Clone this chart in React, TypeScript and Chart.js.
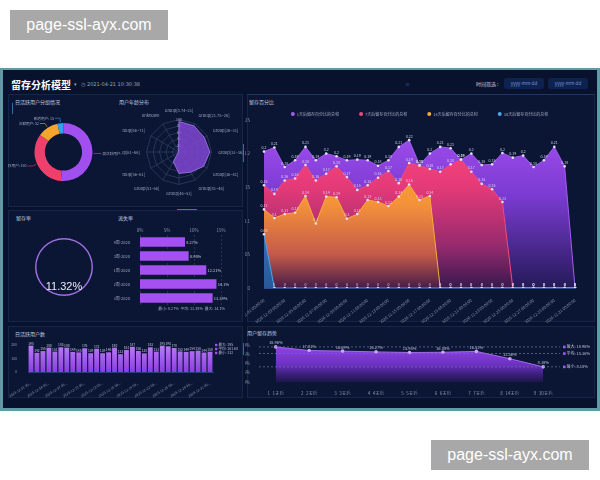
import React, { useEffect, useRef } from 'react';
import { Chart, registerables } from 'chart.js';

Chart.register(...registerables);

const FONT = "'Noto Sans CJK SC', 'Noto Sans', sans-serif";
Chart.defaults.font.family = FONT;
Chart.defaults.color = '#8a94aa';

// ---------- data ----------
const groupLabels = ['高活跃用户', '活跃用户', '沉默用户', '新增用户'];
const groupValues = [230, 150, 52, 15];
const groupColors = ['#a24ff0', '#ef3f6c', '#f6a52c', '#37a0ee'];

const ageLabels = ['Group[0.74~21]', 'Group[21.75~26]', 'Group[26~31]', 'Group[31~36]', 'Group[36~41]', 'Group[41~46]', 'Group[46~51]', 'Group[51~56]', 'Group[56~61]', 'Group[61~66]', 'Group[66~71]', 'unknown'];
const ageValues = [94, 93, 90, 95, 88, 72, 66, 35, 3, 2, 2, 3];

const retentionRate = '11.32%';

const churnWeeks = ['第49周-2020', '第50周-2020', '第51周-2020', '第52周-2020', '第53周-2020'];
const churnRates = [8.27, 8.95, 12.21, 14.1, 13.39];

const dayLabels = [
  '2020-12-01 00:00:00', '2020-12-02 00:00:00', '2020-12-03 00:00:00', '2020-12-04 00:00:00', '2020-12-05 00:00:00',
  '2020-12-06 00:00:00', '2020-12-07 00:00:00', '2020-12-08 00:00:00', '2020-12-09 00:00:00', '2020-12-10 00:00:00',
  '2020-12-11 00:00:00', '2020-12-12 00:00:00', '2020-12-13 00:00:00', '2020-12-14 00:00:00', '2020-12-15 00:00:00',
  '2020-12-16 00:00:00', '2020-12-17 00:00:00', '2020-12-18 00:00:00', '2020-12-19 00:00:00', '2020-12-20 00:00:00',
  '2020-12-21 00:00:00', '2020-12-22 00:00:00', '2020-12-23 00:00:00', '2020-12-24 00:00:00', '2020-12-25 00:00:00',
  '2020-12-26 00:00:00', '2020-12-27 00:00:00', '2020-12-28 00:00:00', '2020-12-29 00:00:00', '2020-12-30 00:00:00',
  '2020-12-31 00:00:00',
];
const seriesNames = ['1天后留存百分比的总和', '7天后留存百分比的总和', '14天后留存百分比的总和', '30天后留存百分比的总和'];
const seriesColors = ['#a35cf2', '#f0487e', '#f6ad3a', '#4aa6ea'];
const retention1 = [0.203, 0.209, 0.180, 0.190, 0.210, 0.190, 0.200, 0.196, 0.190, 0.191, 0.190, 0.182, 0.190, 0.210, 0.220, 0.183, 0.200, 0.210, 0.208, 0.191, 0.200, 0.183, 0.184, 0.201, 0.194, 0.197, 0.180, 0.190, 0.210, 0.181, 0];
const retention7 = [0.153, 0.140, 0.160, 0.163, 0.183, 0.160, 0.170, 0.181, 0.165, 0.146, 0.153, 0.164, 0.174, 0.156, 0.186, 0.182, 0.177, 0.173, 0.184, 0.191, 0.173, 0.155, 0.147, 0.128, 0, 0, 0, 0, 0, 0, 0];
const retention14 = [0.117, 0.104, 0.110, 0.112, 0.137, 0.096, 0.136, 0.135, 0.103, 0.110, 0.131, 0.128, 0.122, 0.136, 0.154, 0.131, 0.137, 0, 0, 0, 0, 0, 0, 0, 0, 0, 0, 0, 0, 0, 0];
const retention30 = [0.08, 0, 0, 0, 0, 0, 0, 0, 0, 0, 0, 0, 0, 0, 0, 0, 0, 0, 0, 0, 0, 0, 0, 0, 0, 0, 0, 0, 0, 0, 0];

const dauValues = [195, 142, 155, 180, 151, 183, 180, 149, 145, 176, 139, 172, 139, 146, 180, 132, 163, 187, 156, 138, 183, 151, 195, 190, 178, 152, 149, 154, 158, 144, 150];

const trendLabels = ['1_1天后', '2_2天后', '3_3天后', '4_4天后', '5_5天后', '6_6天后', '7_7天后', '8_14天后', '9_30天后'];
const trendValues = [18.96, 17.01, 16.69, 16.27, 15.95, 16.08, 16.53, 12.56, 8.18];

// ---------- helpers ----------
function vgrad(chart: any, stops: [number, string][]) {
  const { ctx, chartArea } = chart;
  if (!chartArea) return stops[0][1];
  const g = ctx.createLinearGradient(0, chartArea.top, 0, chartArea.bottom);
  stops.forEach(([o, c]) => g.addColorStop(o, c));
  return g;
}

function valueLabels(id: string, o: { size: number; color: string; fmt: (v: number) => string; dy?: number; dx?: number; side?: boolean }) {
  return {
    id,
    afterDatasetsDraw(chart: any) {
      const ctx = chart.ctx;
      ctx.save();
      ctx.font = `${o.size}px ${FONT}`;
      ctx.fillStyle = o.color;
      ctx.textAlign = o.side ? 'left' : 'center';
      ctx.textBaseline = o.side ? 'middle' : 'bottom';
      chart.data.datasets.forEach((ds: any, di: number) => {
        chart.getDatasetMeta(di).data.forEach((el: any, i: number) => {
          const v = ds.data[i];
          if (o.side) ctx.fillText(o.fmt(v), el.x + (o.dx ?? 2), el.y);
          else ctx.fillText(o.fmt(v), el.x, el.y - (o.dy ?? 2));
        });
      });
      ctx.restore();
    },
  };
}

const baseOpts = {
  responsive: false,
  animation: false,
  events: [],
};

function ChartCanvas({ x, y, w, h, make, clip }: { x: number; y: number; w: number; h: number; make: () => any; clip?: string }) {
  const ref = useRef<HTMLCanvasElement | null>(null);
  useEffect(() => {
    const c = new Chart(ref.current as HTMLCanvasElement, make());
    return () => c.destroy();
  }, []);
  return <canvas ref={ref} width={w} height={h} style={{ position: 'absolute', left: x, top: y, width: w, height: h, clipPath: clip }} />;
}

// ---------- chart configs ----------
const doughnutConfig = () => ({
  type: 'doughnut',
  data: {
    labels: groupLabels,
    datasets: [{ data: groupValues, backgroundColor: groupColors, borderWidth: 0 }],
  },
  options: {
    ...baseOpts,
    cutout: '64%',
    layout: { padding: { left: 26, top: 25, right: 29, bottom: 21 } },
    plugins: { legend: { display: false }, tooltip: { enabled: false } },
  },
  plugins: [
    {
      id: 'dlabels',
      afterDatasetsDraw(chart: any) {
        const ctx = chart.ctx;
        const ds = chart.data.datasets[0];
        ctx.save();
        ctx.font = `3.6px ${FONT}`;
        chart.getDatasetMeta(0).data.forEach((arc: any, i: number) => {
          const { x, y, startAngle, endAngle, outerRadius } = arc.getProps(['x', 'y', 'startAngle', 'endAngle', 'outerRadius'], true);
          const a = (startAngle + endAngle) / 2;
          const c = Math.cos(a), s = Math.sin(a);
          const x1 = x + c * (outerRadius + 1), y1 = y + s * (outerRadius + 1);
          const x2 = x + c * (outerRadius + 5), y2 = y + s * (outerRadius + 5);
          const right = c >= 0;
          const x3 = x2 + (right ? 4 : -5);
          ctx.strokeStyle = groupColors[i];
          ctx.lineWidth = 0.6;
          ctx.beginPath();
          ctx.moveTo(x1, y1);
          ctx.lineTo(x2, y2);
          ctx.lineTo(x3, y2);
          ctx.stroke();
          ctx.fillStyle = '#9ea8bf';
          ctx.textAlign = right ? 'left' : 'right';
          ctx.textBaseline = 'middle';
          ctx.fillText(`${groupLabels[i]}: ${ds.data[i]}`, x3 + (right ? 1 : -1), y2);
        });
        ctx.restore();
      },
    },
  ],
});

const radarConfig = () => ({
  type: 'radar',
  data: {
    labels: ageLabels,
    datasets: [{ data: ageValues, backgroundColor: 'rgba(128,70,210,0.85)', borderColor: '#a878f0', borderWidth: 0.8, pointRadius: 0 }],
  },
  options: {
    ...baseOpts,
    layout: { padding: 0 },
    plugins: { legend: { display: false }, tooltip: { enabled: false } },
    scales: {
      r: {
        min: 0,
        max: 100,
        ticks: { stepSize: 20, font: { size: 3.5 }, color: '#b8a8d8', showLabelBackdrop: false, backdropColor: 'rgba(0,0,0,0)' },
        grid: { color: '#3a4a72', lineWidth: 0.6 },
        angleLines: { color: '#3a4a72', lineWidth: 0.6 },
        pointLabels: { font: { size: 4 }, color: '#9aa4bc', padding: 3 },
      },
    },
  },
});

const gaugeConfig = () => ({
  type: 'doughnut',
  data: { labels: ['留存率'], datasets: [{ data: [1], backgroundColor: '#a06ee2', borderWidth: 0 }] },
  options: {
    ...baseOpts,
    cutout: '95%',
    layout: { padding: 0 },
    plugins: { legend: { display: false }, tooltip: { enabled: false } },
  },
});

const churnConfig = () => ({
  type: 'bar',
  data: {
    labels: churnWeeks,
    datasets: [{ data: churnRates, backgroundColor: '#a551f2', barThickness: 9, borderWidth: 0 }],
  },
  options: {
    ...baseOpts,
    indexAxis: 'y',
    layout: { padding: { top: 0, right: 19, left: 0, bottom: 12 } },
    plugins: { legend: { display: false }, tooltip: { enabled: false } },
    scales: {
      x: {
        position: 'top',
        min: 0,
        max: 15,
        grid: { color: '#34466e', lineWidth: 0.6, drawTicks: false },
        border: { display: false, dash: [2, 2] },
        ticks: { stepSize: 5, font: { size: 4.5 }, padding: 2, callback: (v: any) => v + '%' },
        afterFit: (s: any) => { s.height = 9; },
      },
      y: {
        grid: { display: false },
        border: { display: false },
        ticks: { font: { size: 4 }, padding: 2, color: '#a0a8c0' },
        afterFit: (s: any) => { s.width = 26; },
      },
    },
  },
  plugins: [
    valueLabels('churnLbl', { size: 4, color: '#c8cce0', fmt: (v) => v + '%', side: true, dx: 1.5 }),
    {
      id: 'churnSummary',
      afterDraw(chart: any) {
        const vals = chart.data.datasets[0].data as number[];
        const min = Math.min(...vals), max = Math.max(...vals);
        const avg = vals.reduce((a, b) => a + b, 0) / vals.length;
        const ctx = chart.ctx;
        const { right, bottom } = chart.chartArea;
        ctx.save();
        ctx.font = `3.8px ${FONT}`;
        ctx.fillStyle = '#a8b0c6';
        ctx.textAlign = 'right';
        ctx.textBaseline = 'middle';
        ctx.fillText(`最小: ${min}%  平均: ${avg.toFixed(2)}%  最大: ${max}%`, right + 4, bottom + 4);
        ctx.restore();
      },
    },
  ],
});

const areaConfig = () => {
  const stops: [number, string][][] = [
    [[0, '#a650f2'], [0.45, '#7b3bd2'], [1, '#231a58']],
    [[0, '#ff4e80'], [0.4, '#e53a78'], [0.75, '#962a6e'], [1, '#38184e']],
    [[0, '#ffb22c'], [0.5, '#f4923a'], [0.8, '#c45a4a'], [1, '#461c48']],
    [[0, '#4aa8f0'], [1, '#28589a']],
  ];
  const data = [retention1, retention7, retention14, retention30];
  return {
    type: 'line',
    data: {
      labels: dayLabels,
      datasets: data.map((d, i) => ({
        label: seriesNames[i],
        data: d,
        order: 4 - i,
        fill: 'origin',
        tension: 0,
        borderWidth: 1,
        borderColor: seriesColors[i],
        backgroundColor: (ctx: any) => vgrad(ctx.chart, stops[i]),
        pointRadius: 1.3,
        pointBorderWidth: 0,
        pointBackgroundColor: '#e6dcf8',
      })),
    },
    options: {
      ...baseOpts,
      layout: { padding: { top: 22, right: 20, left: 0, bottom: 0 } },
      plugins: { legend: { display: false }, tooltip: { enabled: false } },
      scales: {
        x: {
          grid: { display: false },
          border: { display: true, color: '#2c4f8c' },
          ticks: {
            autoSkip: false, minRotation: 38, maxRotation: 38, font: { size: 4 }, padding: 2, color: '#8a94aa',
            callback: (_v: any, i: number) => (i % 2 === 0 ? dayLabels[i] : ''),
          },
          afterFit: (s: any) => { s.height = 35; s.paddingLeft = 0; s.paddingRight = 0; },
        },
        y: {
          min: 0,
          max: 0.25,
          grid: { display: false },
          border: { display: false },
          ticks: { stepSize: 0.05, font: { size: 4.5 }, padding: 6, callback: (v: any) => String(+Number(v).toFixed(2)) },
          afterFit: (s: any) => { s.width = 19; },
        },
      },
    },
    plugins: [
      valueLabels('areaLbl', { size: 3.6, color: 'rgba(225,225,240,0.85)', fmt: (v) => (v === 0 ? '0' : String(+v.toFixed(2))), dy: 2 }),
      {
        id: 'areaLegend',
        afterDraw(chart: any) {
          const ctx = chart.ctx;
          const { left, right } = chart.chartArea;
          ctx.save();
          ctx.font = `4px ${FONT}`;
          ctx.textBaseline = 'middle';
          const gap = 20;
          const widths = seriesNames.map((t) => 6 + ctx.measureText(t).width);
          const total = widths.reduce((a, b) => a + b, 0) + gap * (seriesNames.length - 1);
          let x = (left + right) / 2 - total / 2;
          const y = 16;
          seriesNames.forEach((t, i) => {
            ctx.fillStyle = seriesColors[i];
            ctx.beginPath();
            ctx.arc(x + 2, y, 2, 0, Math.PI * 2);
            ctx.fill();
            ctx.fillStyle = '#a0a8c0';
            ctx.textAlign = 'left';
            ctx.fillText(t, x + 6, y);
            x += widths[i] + gap;
          });
          ctx.restore();
        },
      },
    ],
  };
};

const dauConfig = () => ({
  type: 'bar',
  data: {
    labels: dayLabels,
    datasets: [{
      data: dauValues,
      backgroundColor: (ctx: any) => vgrad(ctx.chart, [[0, '#bb7cf8'], [1, '#8a3ee0']]),
      categoryPercentage: 0.85,
      barPercentage: 0.95,
      borderWidth: 0,
    }],
  },
  options: {
    ...baseOpts,
    layout: { padding: { top: 7, right: 27, left: 0, bottom: 0 } },
    plugins: { legend: { display: false }, tooltip: { enabled: false } },
    scales: {
      x: {
        grid: { display: false },
        border: { display: true, color: '#2c4070' },
        ticks: {
          autoSkip: false, minRotation: 32, maxRotation: 32, font: { size: 3.5 }, padding: 1,
          callback: (_v: any, i: number) => (i % 3 === 0 ? dayLabels[i].slice(0, 13) + '...' : ''),
        },
        afterFit: (s: any) => { s.height = 28; s.paddingLeft = 0; s.paddingRight = 0; },
      },
      y: {
        min: 0,
        max: 200,
        grid: { display: false },
        border: { display: false },
        ticks: { stepSize: 50, font: { size: 3.5 }, padding: 3 },
        afterFit: (s: any) => { s.width = 20; },
      },
    },
  },
  plugins: [
    valueLabels('dauLbl', { size: 3.3, color: '#c0c4d8', fmt: (v) => String(v), dy: 0.5 }),
    {
      id: 'dauStats',
      afterDraw(chart: any) {
        const vals = chart.data.datasets[0].data as number[];
        const max = Math.max(...vals), min = Math.min(...vals);
        const avg = vals.reduce((a, b) => a + b, 0) / vals.length;
        const ctx = chart.ctx;
        const { right, top } = chart.chartArea;
        ctx.save();
        ctx.font = `3.5px ${FONT}`;
        ctx.textBaseline = 'middle';
        ctx.textAlign = 'left';
        [['最大', String(max)], ['平均', avg.toFixed(2)], ['最小', String(min)]].forEach(([n, v], i) => {
          const y = top + i * 4;
          ctx.fillStyle = '#a24ff0';
          ctx.fillRect(right + 2, y - 1.2, 2.4, 2.4);
          ctx.fillStyle = '#b8bed2';
          ctx.fillText(`${n}: ${v}`, right + 5.5, y);
        });
        ctx.restore();
      },
    },
  ],
});

const trendConfig = () => ({
  type: 'line',
  data: {
    labels: trendLabels,
    datasets: [{
      data: trendValues,
      fill: 'origin',
      tension: 0,
      borderColor: '#a866f2',
      borderWidth: 1,
      backgroundColor: (ctx: any) => vgrad(ctx.chart, [[0, '#9444e8'], [0.55, '#6a30c0'], [1, 'rgba(40,22,90,0.7)']]),
      pointRadius: 1.8,
      pointBorderWidth: 0,
      pointBackgroundColor: '#cfa6ff',
    }],
  },
  options: {
    ...baseOpts,
    layout: { padding: { top: 12, right: 35, left: 0, bottom: 0 } },
    plugins: { legend: { display: false }, tooltip: { enabled: false } },
    scales: {
      x: {
        offset: true,
        grid: { display: false },
        border: { display: false },
        ticks: { font: { size: 4.5 }, padding: 1, autoSkip: false, maxRotation: 0 },
        afterFit: (s: any) => { s.height = 13; s.paddingLeft = 0; s.paddingRight = 0; },
      },
      y: {
        min: 0,
        max: 20,
        grid: { display: false },
        border: { display: false },
        ticks: { stepSize: 5, font: { size: 4.5 }, padding: 1, callback: (v: any) => v + '%' },
        afterFit: (s: any) => { s.width = 14; },
      },
    },
  },
  plugins: [
    valueLabels('trendLbl', { size: 4, color: '#c4c8dc', fmt: (v) => v.toFixed(2) + '%', dy: 2 }),
    {
      id: 'trendMarks',
      afterDatasetsDraw(chart: any) {
        const vals = chart.data.datasets[0].data as number[];
        const max = Math.max(...vals), min = Math.min(...vals);
        const avg = vals.reduce((a, b) => a + b, 0) / vals.length;
        const ys = chart.scales.y;
        const { left, right } = chart.chartArea;
        const ctx = chart.ctx;
        ctx.save();
        ctx.font = `4px ${FONT}`;
        ctx.textAlign = 'left';
        ctx.textBaseline = 'middle';
        ([['最大', max], ['平均', avg], ['最小', min]] as [string, number][]).forEach(([n, v]) => {
          const y = ys.getPixelForValue(v);
          ctx.setLineDash([2, 2]);
          ctx.strokeStyle = '#6c7796';
          ctx.lineWidth = 0.7;
          ctx.beginPath();
          ctx.moveTo(left, y);
          ctx.lineTo(right, y);
          ctx.stroke();
          ctx.setLineDash([]);
          ctx.fillStyle = '#9a5cf0';
          ctx.fillRect(right + 3, y - 1.3, 2.6, 2.6);
          ctx.fillStyle = '#c0c6d8';
          ctx.fillText(`${n}: ${v.toFixed(2)}%`, right + 6.5, y);
        });
        ctx.restore();
      },
    },
  ],
});

// ---------- layout ----------
const abs = (l: number, t: number, extra: any = {}) => ({ position: 'absolute' as const, left: l, top: t, ...extra });

function Panel({ l, t, w, h, topColor }: { l: number; t: number; w: number; h: number; topColor?: string }) {
  return (
    <div
      style={abs(l, t, {
        width: w, height: h, boxSizing: 'border-box', background: '#0a1633',
        border: '1px solid #14264a', borderTopColor: topColor || '#14264a',
      })}
    />
  );
}

function Title({ l, t, text }: { l: number; t: number; text: string }) {
  return <div style={abs(l, t, { fontSize: 5, color: '#c6cee0', fontFamily: FONT, lineHeight: '6px', whiteSpace: 'nowrap' })}>{text}</div>;
}

function Watermark({ l, t }: { l: number; t: number }) {
  return (
    <div
      style={abs(l, t, {
        width: 158, height: 30, background: '#a8a8a8', color: '#ffffff',
        fontFamily: "'Liberation Sans', Arial, sans-serif", fontSize: 16, lineHeight: '30px', textAlign: 'center',
      })}
    >
      page-ssl-ayx.com
    </div>
  );
}

export default function App() {
  return (
    <div style={{ position: 'fixed', left: 0, top: 0, width: 600, height: 480, background: '#ffffff', overflow: 'hidden' }}>
      <Watermark l={10} t={10} />
      <Watermark l={431} t={440} />

      <div
        style={abs(0, 68, {
          width: 600, height: 343, boxSizing: 'border-box', background: '#08122c',
          borderStyle: 'solid', borderColor: '#5e9ba7', borderWidth: '2px 3px 3px 3px',
        })}
      />

      {/* header */}
      <div style={abs(11, 78, { fontSize: 10, fontWeight: 700, color: '#ffffff', fontFamily: FONT, lineHeight: '13px', whiteSpace: 'nowrap' })}>留存分析模型</div>
      <div style={abs(74, 81, { fontSize: 5, color: '#9aa4bc', fontFamily: FONT, lineHeight: '6px', whiteSpace: 'nowrap' })}>▾</div>
      <div style={abs(81, 81, { fontSize: 5, color: '#9aa4bc', fontFamily: "'DejaVu Sans', sans-serif", lineHeight: '6px', whiteSpace: 'nowrap' })}>◷ 2021-04-21 10:30:38</div>
      <div style={abs(405, 81, { fontSize: 5, color: '#4a6ad0', fontFamily: FONT, lineHeight: '6px' })}>≡</div>
      <div style={abs(476, 81, { fontSize: 5, color: '#c4cce0', fontFamily: FONT, lineHeight: '6px', whiteSpace: 'nowrap' })}>时间筛选 :</div>
      <div style={abs(504, 78, { width: 40, height: 11, background: '#0e2250', borderRadius: 2, fontSize: 4.5, color: '#7a94d0', fontFamily: FONT, lineHeight: '11px', textAlign: 'center' })}>yyyy-mm-dd</div>
      <div style={abs(548, 78, { width: 40, height: 11, background: '#0e2250', borderRadius: 2, fontSize: 4.5, color: '#7a94d0', fontFamily: FONT, lineHeight: '11px', textAlign: 'center' })}>yyyy-mm-dd</div>

      {/* panels */}
      <Panel l={8} t={94} w={235} h={113} />
      <Panel l={8} t={210} w={235} h={112} />
      <Panel l={247} t={94} w={348} h={228} topColor="#1f3763" />
      <Panel l={8} t={326} w={235} h={72} />
      <Panel l={247} t={326} w={348} h={72} />

      {/* accents */}
      <div style={abs(12, 103, { width: 1, height: 11, background: '#2f6f9a' })} />
      <div style={abs(243, 144, { width: 1, height: 18, background: '#2f6f9a' })} />
      <div style={abs(177, 209, { width: 20, height: 1, background: '#2f7faa' })} />
      <div style={abs(243, 343, { width: 1, height: 12, background: '#2f6f9a' })} />

      {/* titles */}
      <Title l={15} t={99} text="日活跃用户分组情况" />
      <Title l={119} t={99} text="用户年龄分布" />
      <Title l={16} t={215} text="留存率" />
      <Title l={118} t={215} text="流失率" />
      <Title l={249} t={99} text="留存百分比" />
      <Title l={15} t={331} text="日活跃用户数" />
      <Title l={247} t={330} text="用户留存趋势" />

      {/* charts */}
      <ChartCanvas x={8} y={98} w={114} h={104} make={doughnutConfig} />
      <ChartCanvas x={106} y={108} w={146} h={88} make={radarConfig} clip="inset(0 0 0 16px)" />
      <ChartCanvas x={35} y={238} w={58} h={58} make={gaugeConfig} />
      <div style={abs(34, 280, { width: 60, textAlign: 'center', fontSize: 11, color: '#eceaf6', fontFamily: "'Liberation Sans', Arial, sans-serif", lineHeight: '13px' })}>{retentionRate}</div>
      <ChartCanvas x={114} y={226} w={126} h={91} make={churnConfig} />
      <ChartCanvas x={245} y={98} w={350} h={225} make={areaConfig} />
      <ChartCanvas x={8} y={338} w={232} h={62} make={dauConfig} />
      <ChartCanvas x={245} y={333} w={350} h={62} make={trendConfig} />
    </div>
  );
}
